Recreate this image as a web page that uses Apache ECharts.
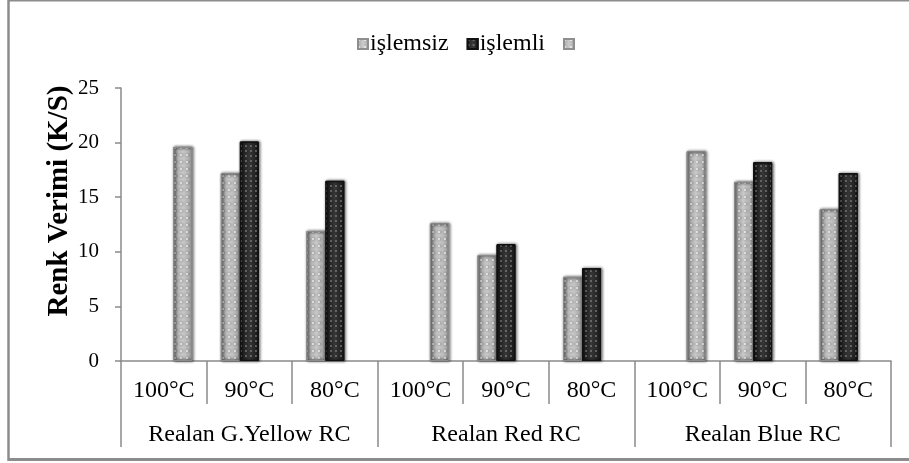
<!DOCTYPE html>
<html>
<head>
<meta charset="utf-8">
<script src="https://cdn.jsdelivr.net/npm/echarts@6/dist/echarts.min.js"></script>
<style>
html,body{margin:0;padding:0;background:#fff;overflow:hidden;}
#chart{width:909px;height:463px;}
</style>
</head>
<body>
<div id="chart"></div>
<script>
const temps = ['100°C','90°C','80°C','100°C','90°C','80°C','100°C','90°C','80°C'];
const groups = ['Realan G.Yellow RC','Realan Red RC','Realan Blue RC'];
const seriesNames = ['işlemsiz','işlemli',' '];
const islemsiz = [null, 17.2, 11.9, null, 9.7, 7.7, null, 16.4, 13.9];
const islemli  = [null, 20.1, 16.5, null, 10.7, 8.5, null, 18.2, 17.2];
const third    = [19.6, null, null, 12.6, null, null, 19.2, null, null];
const yTicks = [0, 5, 10, 15, 20, 25];
const yTitle = 'Renk Verimi (K/S)';

const serif = '"Liberation Serif","Times New Roman",serif';
const axisGray = '#8a8a8a';
const frameGray = '#8c8c8c';

const lightFill = {
  type: 'linear', x: 0, y: 0, x2: 1, y2: 0,
  colorStops: [
    {offset: 0, color: '#a2a2a2'},
    {offset: 0.5, color: '#cbcbcb'},
    {offset: 1, color: '#a6a6a6'}
  ]
};
const darkFill = {
  type: 'linear', x: 0, y: 0, x2: 1, y2: 0,
  colorStops: [
    {offset: 0, color: '#1a1a1a'},
    {offset: 0.5, color: '#3a3a3a'},
    {offset: 1, color: '#1a1a1a'}
  ]
};
const lightDecal = {symbol: 'circle', symbolSize: 1, color: 'rgba(255,255,255,0.75)', dashArrayX: [2, 4], dashArrayY: [2, 5], rotation: 0};
const darkDecal = {symbol: 'circle', symbolSize: 1, color: 'rgba(150,150,150,0.7)', dashArrayX: [2, 3], dashArrayY: [2, 3], rotation: 0};

function barSeries(name, data, fill, decal, border) {
  return {
    name: name,
    type: 'bar',
    data: data,
    barWidth: 19,
    barGap: '0%',
    xAxisIndex: 0,
    itemStyle: {
      color: fill,
      decal: decal,
      borderColor: border,
      borderWidth: 1,
      shadowColor: 'rgba(0,0,0,0.25)',
      shadowBlur: 3,
      shadowOffsetX: 1
    }
  };
}

const chart = echarts.init(document.getElementById('chart'), null, {renderer: 'canvas'});
chart.setOption({
  animation: false,
  backgroundColor: '#ffffff',
  textStyle: {fontFamily: serif, color: '#000'},
  legend: {
    left: 352,
    top: 27,
    itemWidth: 10,
    itemHeight: 10,
    itemGap: 18,
    icon: 'rect',
    textStyle: {fontFamily: serif, fontSize: 24, color: '#000', padding: [0, 0, 0, -3]},
    data: seriesNames
  },
  grid: {left: 121, right: 18, top: 88, bottom: 102, containLabel: false},
  xAxis: [
    {
      type: 'category',
      data: temps,
      position: 'bottom',
      axisLine: {show: true, lineStyle: {color: axisGray, width: 1.5}},
      axisTick: {show: true, length: 43, interval: 0, lineStyle: {color: axisGray, width: 1.5}},
      axisLabel: {interval: 0, margin: 18, fontSize: 24, fontFamily: serif, color: '#000'}
    },
    {
      type: 'category',
      data: groups,
      position: 'bottom',
      axisLine: {show: false},
      axisTick: {show: true, length: 86, interval: 0, lineStyle: {color: axisGray, width: 1.5}},
      axisLabel: {interval: 0, margin: 62, fontSize: 24, fontFamily: serif, color: '#000'}
    }
  ],
  yAxis: {
    type: 'value',
    min: yTicks[0],
    max: yTicks[yTicks.length - 1],
    interval: yTicks[1] - yTicks[0],
    axisLine: {show: true, lineStyle: {color: axisGray, width: 1.5}},
    axisTick: {show: true, length: 6, lineStyle: {color: axisGray, width: 1.5}},
    splitLine: {show: false},
    axisLabel: {margin: 22, fontSize: 21, fontFamily: serif, color: '#000'}
  },
  graphic: [
    {
      type: 'line', silent: true,
      shape: {x1: 8.5, y1: 0, x2: 8.5, y2: 461},
      style: {stroke: frameGray, lineWidth: 2.5}
    },
    {
      type: 'line', silent: true,
      shape: {x1: 8, y1: 0.8, x2: 909, y2: 0.8},
      style: {stroke: frameGray, lineWidth: 1.6}
    },
    {
      type: 'line', silent: true,
      shape: {x1: 8, y1: 459.5, x2: 909, y2: 459.5},
      style: {stroke: frameGray, lineWidth: 3}
    },
    {
      type: 'text',
      x: 60,
      y: 201,
      rotation: Math.PI / 2,
      style: {
        text: yTitle,
        font: 'bold 29px ' + serif,
        fill: '#000',
        textAlign: 'center',
        textVerticalAlign: 'middle'
      }
    }
  ],
  series: [
    barSeries(seriesNames[0], islemsiz, lightFill, lightDecal, '#8e8e8e'),
    barSeries(seriesNames[1], islemli, darkFill, darkDecal, '#111'),
    barSeries(seriesNames[2], third, lightFill, lightDecal, '#8e8e8e')
  ]
});
</script>
</body>
</html>
